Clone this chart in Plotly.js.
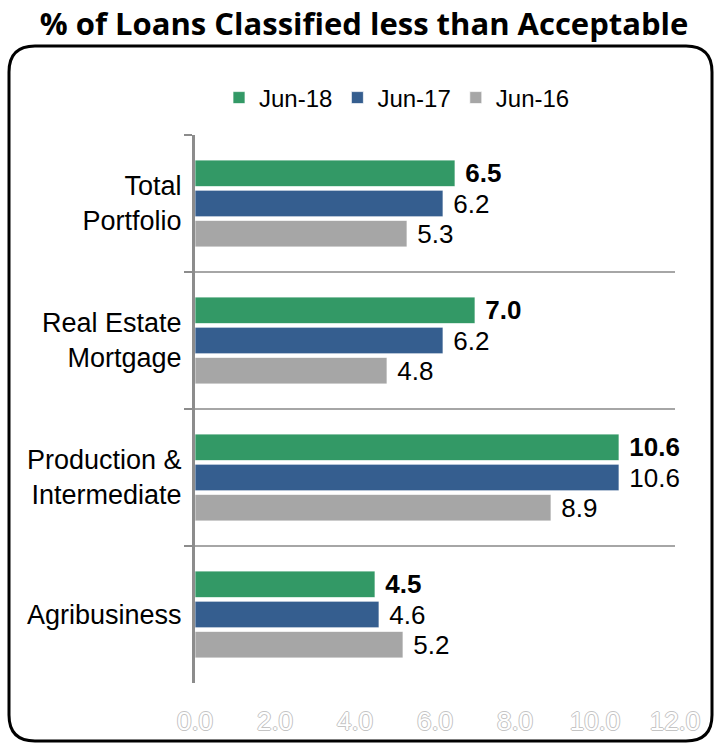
<!DOCTYPE html>
<html>
<head>
<meta charset="utf-8">
<script src="https://cdn.plot.ly/plotly-3.0.1.min.js"></script>
<style>html,body{margin:0;padding:0;background:#fff;}</style>
</head>
<body>
<div id="chart" style="width:721px;height:745px;"></div>
<script>
const categories = ["Total<br>Portfolio", "Real Estate<br>Mortgage", "Production &<br>Intermediate", "Agribusiness"];
const seriesNames = ["Jun-18", "Jun-17", "Jun-16"];
const jun18 = [6.5, 7.0, 10.6, 4.5];
const jun17 = [6.2, 6.2, 10.6, 4.6];
const jun16 = [5.3, 4.8, 8.9, 5.2];
const xTickVals = [0, 2, 4, 6, 8, 10, 12];
const xTickText = ["0.0", "2.0", "4.0", "6.0", "8.0", "10.0", "12.0"];

const colors = ["#339966", "#355e8f", "#a6a6a6"];
const values = [jun18, jun17, jun16];
const FONT = "Liberation Sans, Arial, sans-serif";

const traces = values.map((v, i) => ({
  type: "bar",
  orientation: "h",
  name: seriesNames[i],
  y: categories,
  x: v,
  marker: {color: colors[i], line: {color: "rgba(255,255,255,0.7)", width: 1}},
  text: v.map(d => d.toFixed(1)),
  texttemplate: i === 0 ? "\u00a0<b>%{text}</b>" : "\u00a0%{text}",
  textposition: "outside",
  constraintext: "none",
  cliponaxis: false,
  textfont: {family: FONT, size: 26, color: "#000"},
  hoverinfo: "x+name"
}));

// plot area geometry (pixels)
const L = 195, R = 675, T = 135, B = 683, W = 721, H = 745;
const px = x => (x - L) / (R - L);
const py = y => (B - y) / (B - T);
function roundRect(x0, y0, x1, y1, r) {
  return `M ${px(x0 + r)} ${py(y0)} L ${px(x1 - r)} ${py(y0)} ` +
    `Q ${px(x1)} ${py(y0)} ${px(x1)} ${py(y0 + r)} ` +
    `L ${px(x1)} ${py(y1 - r)} Q ${px(x1)} ${py(y1)} ${px(x1 - r)} ${py(y1)} ` +
    `L ${px(x0 + r)} ${py(y1)} Q ${px(x0)} ${py(y1)} ${px(x0)} ${py(y1 - r)} ` +
    `L ${px(x0)} ${py(y0 + r)} Q ${px(x0)} ${py(y0)} ${px(x0 + r)} ${py(y0)} Z`;
}

const layout = {
  width: W, height: H,
  margin: {l: L, r: W - R, t: T, b: H - B},
  paper_bgcolor: "#fff",
  plot_bgcolor: "#fff",
  title: {
    text: "<b>% of Loans Classified less than Acceptable</b>",
    font: {family: "Open Sans, sans-serif", size: 31, color: "#000"},
    x: 0.505, xref: "container", xanchor: "center",
    y: 0.968, yref: "container", yanchor: "middle"
  },
  barmode: "group",
  bargap: 0.34,
  bargroupgap: 0.12,
  showlegend: true,
  legend: {
    orientation: "h",
    x: px(397), xanchor: "center",
    y: py(98), yanchor: "middle",
    font: {family: FONT, size: 24, color: "#000"},
    traceorder: "normal",
    itemwidth: 30,
    bgcolor: "rgba(0,0,0,0)"
  },
  xaxis: {
    range: [0, 12],
    tickvals: xTickVals,
    ticktext: xTickText,
    showgrid: false,
    zeroline: false,
    showline: false,
    ticks: "",
    ticklabelstandoff: 20,
    tickfont: {family: FONT, size: 26, color: "#ffffff",
      shadow: "-1px 0 #c4c4c4, 1px 0 #c4c4c4, 0 -1px #c4c4c4, 0 1px #c4c4c4"},
    fixedrange: true
  },
  yaxis: {
    autorange: "reversed",
    type: "category",
    tickson: "boundaries",
    showgrid: true,
    gridcolor: "#a6a6a6",
    gridwidth: 1.5,
    showline: true,
    linecolor: "#8c8c8c",
    linewidth: 3,
    ticks: "outside",
    ticklen: 8,
    tickwidth: 2,
    tickcolor: "#8c8c8c",
    ticklabelstandoff: 5,
    tickfont: {family: FONT, size: 27, color: "#000"},
    fixedrange: true
  },
  shapes: [{
    type: "path",
    xref: "paper", yref: "paper",
    path: roundRect(9, 46, 712, 741, 26),
    line: {color: "#000", width: 3},
    fillcolor: "rgba(0,0,0,0)",
    layer: "below"
  }]
};

Plotly.newPlot("chart", traces, layout, {displayModeBar: false, staticPlot: true});
</script>
</body>
</html>
